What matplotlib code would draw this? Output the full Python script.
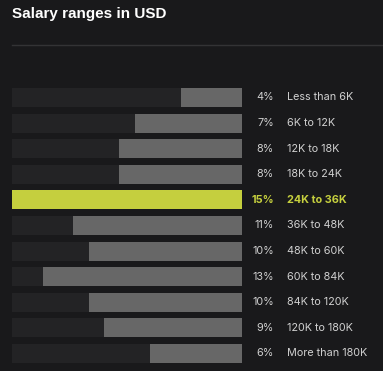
import matplotlib.pyplot as plt
from matplotlib.lines import Line2D

labels = ["Less than 6K", "6K to 12K", "12K to 18K", "18K to 24K", "24K to 36K",
          "36K to 48K", "48K to 60K", "60K to 84K", "84K to 120K", "120K to 180K",
          "More than 180K"]
shares = [4, 7, 8, 8, 15, 11, 10, 13, 10, 9, 6]
highlight = 4

bg = "#19191b"
track = "#232325"
grey = "#676767"
lime = "#c5cf3e"
txt = "#d0d0d0"

W, H = 383, 371
fig = plt.figure(figsize=(W / 100, H / 100), dpi=100, facecolor=bg)

fig.text(12 / W, 1 - 14 / H, "Salary ranges in USD", color="white", fontsize=11,
         fontweight="bold", family="Liberation Sans", va="center", ha="left")
fig.add_artist(Line2D([12 / W, 1], [1 - 45 / H, 1 - 45 / H], color="#333335", lw=1))

# bar area: 12..242 px wide, rows pitched 25.6 px starting at 88
pitch = 25.6
top = 88 - (pitch - 19) / 2
ax = fig.add_axes([12 / W, 1 - (top + pitch * 11) / H, 230 / W, pitch * 11 / H])
ax.set_facecolor(bg)
vmax = max(shares)
ax.set_xlim(0, vmax)
ax.set_ylim(len(shares) - 0.5, -0.5)
ax.axis("off")

h = 19 / pitch
for i, (lab, v) in enumerate(zip(labels, shares)):
    hi = i == highlight
    ax.barh(i, vmax, height=h, color=track, lw=0)
    ax.barh(i, v, left=vmax - v, height=h, color=lime if hi else grey, lw=0)
    c = lime if hi else txt
    w = "bold" if hi else "normal"
    ax.text(vmax * 262 / 230, i, f"{v}%", color=c, fontsize=7.8, fontweight=w,
            family="Inter", ha="right", va="center", clip_on=False)
    ax.text(vmax * 275 / 230, i, lab, color=c, fontsize=7.8, fontweight=w,
            family="Inter", ha="left", va="center", clip_on=False)

fig.savefig("out.png", dpi=100, facecolor=bg)
